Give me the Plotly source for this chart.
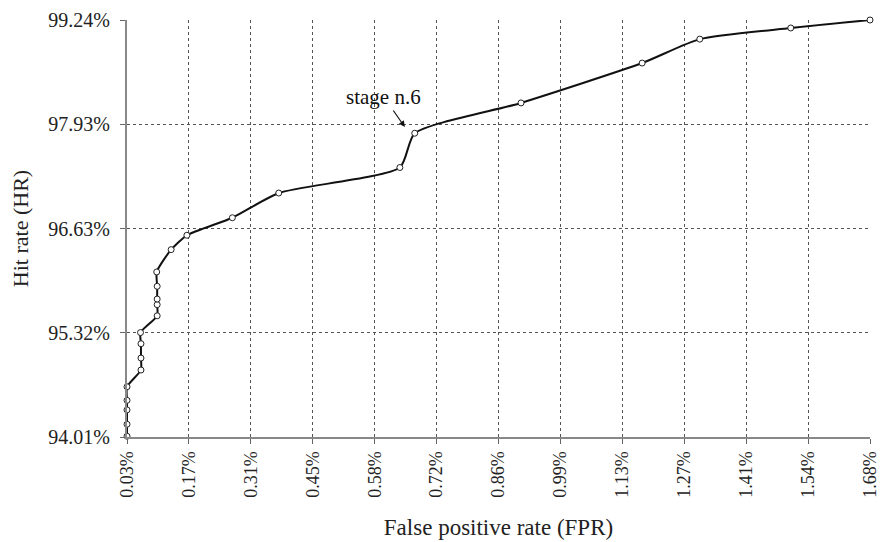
import plotly.graph_objects as go
import numpy as np

# Data: FPR (%) and hit rate (%)
fpr = [0.03, 0.03, 0.03, 0.03, 0.03, 0.061, 0.061, 0.061, 0.060, 0.097, 0.097, 0.097,
       0.097, 0.096, 0.128, 0.163, 0.264, 0.367, 0.636, 0.669, 0.905, 1.174, 1.302,
       1.504, 1.68]
hit = [94.02, 94.17, 94.35, 94.47, 94.64, 94.85, 95.00, 95.18, 95.32, 95.53, 95.67,
       95.74, 95.90, 96.08, 96.36, 96.54, 96.76, 97.07, 97.39, 97.82, 98.20, 98.70,
       99.00, 99.14, 99.24]

x_ticktext = ["0.03%", "0.17%", "0.31%", "0.45%", "0.58%", "0.72%", "0.86%",
              "0.99%", "1.13%", "1.27%", "1.41%", "1.54%", "1.68%"]
y_ticktext = ["94.01%", "95.32%", "96.63%", "97.93%", "99.24%"]
x_min, x_max = 0.03, 1.68
y_min, y_max = 94.01, 99.24

x_tickvals = list(np.linspace(x_min, x_max, len(x_ticktext)))
y_tickvals = list(np.linspace(y_min, y_max, len(y_ticktext)))

font_family = "Liberation Serif, Times New Roman, serif"

fig = go.Figure()
fig.add_trace(go.Scatter(
    x=fpr, y=hit, mode="lines+markers",
    line=dict(color="#111111", width=2, shape="spline", smoothing=0.6),
    marker=dict(symbol="circle", size=6, color="white",
                line=dict(color="#222222", width=1)),
    cliponaxis=False, showlegend=False,
))

fig.add_annotation(
    x=0.647, y=97.898, xref="x", yref="y",
    text="stage n.6", showarrow=True, arrowhead=2, arrowsize=1, arrowwidth=1.2,
    arrowcolor="#111111", ax=-21, ay=-30,
    font=dict(family=font_family, size=21, color="#111111"),
)

fig.update_layout(
    width=881, height=542,
    margin=dict(l=127, r=11, t=20, b=105),
    paper_bgcolor="white", plot_bgcolor="white",
    font=dict(family=font_family, size=18, color="#222222"),
)
fig.update_xaxes(
    range=[x_min, x_max], tickvals=x_tickvals, ticktext=x_ticktext,
    tickangle=-90, ticks="outside", ticklen=5, tickcolor="#666666",
    showgrid=True, gridcolor="#555555", griddash="dot", gridwidth=1,
    showline=True, linecolor="#888888", linewidth=2, zeroline=False,
    automargin=False, ticklabeloverflow="allow",
    title=dict(text="False positive rate (FPR)", font=dict(size=23), standoff=22),
    tickfont=dict(size=18),
)
fig.update_yaxes(
    range=[y_min, y_max], tickvals=y_tickvals, ticktext=y_ticktext,
    ticks="outside", ticklen=5, tickcolor="#666666",
    showgrid=True, gridcolor="#555555", griddash="dot", gridwidth=1,
    showline=True, linecolor="#888888", linewidth=2, zeroline=False,
    automargin=False, ticklabelstandoff=6, ticklabeloverflow="allow",
    title=dict(text="Hit rate (HR)", font=dict(size=22), standoff=14),
    tickfont=dict(size=20),
)

# remove the browser's default 8px body margin so the figure fills the window
fig.write_html("out.html", config={"displayModeBar": False},
               post_script="document.body.style.margin='0';")
